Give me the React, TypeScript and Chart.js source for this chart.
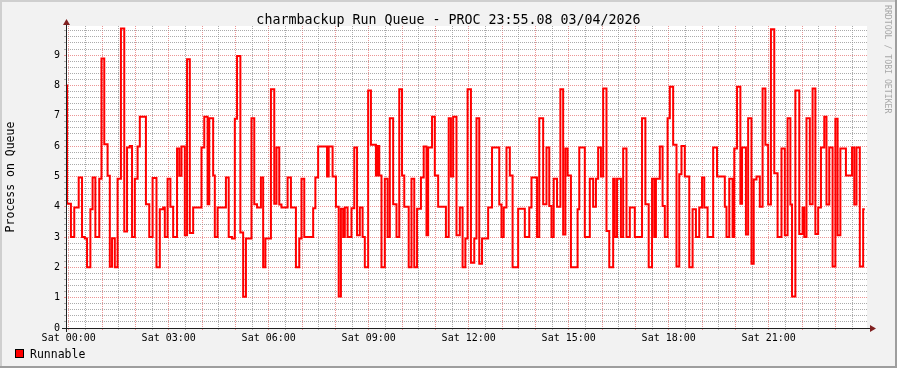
import { useEffect, useRef } from 'react';
import { Chart, registerables } from 'chart.js';

Chart.register(...registerables);

// Time of each step start, minutes after Sat 00:00
const minutes = [
  -5, -3, 4, 10, 18, 24, 29, 33, 39, 43, 48, 55, 59, 64, 70, 74, 78, 83, 88, 94,
  100, 105, 110, 114, 119, 124, 128, 139, 145, 151, 158, 164, 170, 173, 178, 183, 188, 195, 199, 203,
  209, 213, 218, 224, 239, 244, 250, 253, 260, 263, 268, 283, 288, 294, 299, 303, 309, 314, 319, 329,
  334, 339, 346, 350, 354, 364, 370, 374, 379, 383, 394, 400, 409, 415, 419, 424, 440, 444, 449, 465,
  468, 475, 481, 486, 490, 494, 497, 502, 509, 514, 519, 524, 529, 533, 539, 544, 553, 556, 559, 563,
  569, 574, 578, 584, 590, 595, 600, 604, 612, 617, 622, 627, 634, 639, 644, 647, 654, 659, 665, 679,
  684, 688, 692, 698, 704, 709, 714, 718, 724, 730, 734, 739, 744, 755, 762, 775, 779, 783, 788, 794,
  799, 809, 821, 829, 833, 843, 847, 854, 860, 865, 869, 873, 879, 885, 890, 894, 898, 904, 916, 919,
  929, 938, 944, 949, 953, 958, 962, 968, 973, 980, 983, 987, 994, 998, 1004, 1010, 1019, 1032, 1038, 1044,
  1050, 1054, 1057, 1064, 1069, 1073, 1078, 1082, 1088, 1094, 1099, 1103, 1109, 1117, 1123, 1129, 1135, 1140, 1144, 1150,
  1160, 1167, 1181, 1184, 1189, 1195, 1198, 1203, 1209, 1212, 1219, 1223, 1229, 1233, 1238, 1244, 1249, 1254, 1259, 1264,
  1270, 1276, 1283, 1289, 1294, 1299, 1302, 1308, 1315, 1321, 1324, 1328, 1334, 1339, 1344, 1349, 1354, 1360, 1364, 1369,
  1375, 1380, 1384, 1389, 1399, 1410, 1414, 1418, 1424, 1430, 1433,
];

// Runnable processes on queue
const runnable = [
  8.0, 4.1, 3.0, 3.97, 4.96, 3.0, 2.95, 2.0, 3.92, 4.96, 3.0, 4.92, 8.89, 6.06, 5.02, 2.02, 2.96, 2.0, 4.92, 9.88,
  3.18, 5.95, 6.0, 3.0, 4.92, 5.99, 6.97, 4.08, 3.0, 4.95, 2.0, 3.92, 3.97, 3.0, 4.92, 4.0, 3.0, 5.92, 5.02, 5.99,
  3.06, 8.86, 3.13, 3.97, 5.95, 6.97, 4.08, 6.92, 5.03, 3.0, 3.97, 4.96, 3.0, 2.95, 6.9, 8.97, 3.15, 1.03, 2.95, 6.92,
  4.08, 3.97, 4.96, 2.0, 2.95, 7.87, 4.1, 5.95, 4.07, 3.97, 4.96, 3.97, 2.0, 2.95, 4.92, 3.0, 3.95, 4.96, 5.99, 5.0,
  5.99, 5.0, 4.0, 1.04, 3.93, 3.0, 3.97, 3.0, 3.95, 5.95, 3.06, 3.97, 3.0, 2.0, 7.83, 6.04, 5.03, 6.0, 5.03, 2.0,
  4.92, 3.0, 6.92, 4.08, 3.0, 7.87, 5.03, 4.0, 2.0, 4.92, 2.0, 3.93, 4.96, 5.99, 3.06, 5.95, 6.97, 5.03, 4.0, 3.0,
  6.92, 5.0, 6.97, 3.06, 3.97, 2.0, 2.95, 7.87, 2.15, 2.95, 6.92, 2.12, 2.95, 3.97, 5.95, 4.07, 3.0, 3.97, 5.95, 5.03,
  2.0, 3.93, 3.0, 3.97, 4.96, 3.0, 6.92, 4.08, 5.95, 4.02, 3.0, 4.92, 4.0, 7.87, 3.08, 5.92, 5.03, 2.0, 3.92, 5.95,
  3.0, 4.92, 4.0, 4.92, 5.95, 5.0, 7.9, 3.2, 2.0, 4.92, 3.0, 4.92, 3.0, 5.92, 3.0, 3.97, 3.0, 6.92, 4.08, 2.0,
  4.92, 3.0, 4.92, 5.99, 4.02, 3.0, 6.92, 7.96, 6.04, 2.03, 5.07, 6.0, 5.0, 2.0, 3.92, 3.0, 3.97, 4.96, 3.97, 3.0,
  5.95, 5.0, 4.0, 3.0, 4.92, 3.0, 5.92, 7.96, 4.1, 5.95, 3.08, 6.92, 2.12, 4.9, 5.0, 4.0, 7.9, 6.04, 4.07, 9.85,
  5.1, 3.0, 5.92, 3.06, 6.92, 4.07, 1.04, 7.83, 3.1, 3.97, 3.0, 6.92, 4.08, 7.9, 3.1, 3.97, 5.95, 6.97, 4.07, 5.95,
  2.03, 6.9, 3.06, 5.92, 5.03, 5.95, 4.07, 5.95, 2.03, 3.92, 3.92,
];

const xTickMinutes = [0, 180, 360, 540, 720, 900, 1080, 1260];
const xTickLabels = ['Sat 00:00', 'Sat 03:00', 'Sat 06:00', 'Sat 09:00', 'Sat 12:00', 'Sat 15:00', 'Sat 18:00', 'Sat 21:00'];
const yTickValues = [0, 1, 2, 3, 4, 5, 6, 7, 8, 9];
const yTickLabels = ['0', '1', '2', '3', '4', '5', '6', '7', '8', '9'];

const titleText = 'charmbackup Run Queue - PROC 23:55.08 03/04/2026';
const yTitle = 'Process on Queue';
const legendLabel = 'Runnable';
const watermark = 'RRDTOOL / TOBI OETIKER';

const MONO = '"DejaVu Sans Mono", monospace';
const GRID = 'rgba(143,143,143,0.75)';
const MGRID = 'rgba(222,79,79,0.6)';

const isInt = (v: number) => Math.abs(v - Math.round(v)) < 1e-6;

const deco = {
  id: 'deco',
  beforeDraw(chart: any) {
    const { ctx, chartArea: a, width, height } = chart;
    ctx.save();
    ctx.fillStyle = '#F2F2F2';
    ctx.fillRect(0, 0, width, height);
    ctx.fillStyle = '#CFCFCF';
    ctx.fillRect(0, 0, width, 2);
    ctx.fillRect(0, 0, 2, height);
    ctx.fillStyle = '#9E9E9E';
    ctx.fillRect(0, height - 2, width, 2);
    ctx.fillRect(width - 2, 0, 2, height);
    ctx.fillStyle = '#FFFFFF';
    ctx.fillRect(a.left, a.top, a.right - a.left, a.bottom - a.top);
    ctx.restore();
  },
  afterDraw(chart: any) {
    const { ctx, chartArea: a, width } = chart;
    ctx.save();
    // axes
    ctx.strokeStyle = '#1F1F1F';
    ctx.lineWidth = 1;
    ctx.beginPath();
    ctx.moveTo(a.left - 4, a.bottom + 0.5);
    ctx.lineTo(a.right + 4, a.bottom + 0.5);
    ctx.stroke();
    ctx.beginPath();
    ctx.moveTo(a.left + 0.5, a.bottom + 4);
    ctx.lineTo(a.left + 0.5, a.top - 3);
    ctx.stroke();
    // arrows
    ctx.fillStyle = '#802020';
    ctx.beginPath();
    ctx.moveTo(a.right + 3, a.bottom + 0.5 - 3.5);
    ctx.lineTo(a.right + 9, a.bottom + 0.5);
    ctx.lineTo(a.right + 3, a.bottom + 0.5 + 3.5);
    ctx.closePath();
    ctx.fill();
    ctx.beginPath();
    ctx.moveTo(a.left + 0.5 - 3.5, a.top - 1);
    ctx.lineTo(a.left + 0.5, a.top - 7);
    ctx.lineTo(a.left + 0.5 + 3.5, a.top - 1);
    ctx.closePath();
    ctx.fill();

    // title
    ctx.fillStyle = '#000';
    ctx.font = `13.3px ${MONO}`;
    ctx.textAlign = 'center';
    ctx.textBaseline = 'alphabetic';
    ctx.fillText(titleText, width / 2, 24);

    // y-axis title
    ctx.save();
    ctx.font = `11.5px ${MONO}`;
    ctx.translate(11, (a.top + a.bottom) / 2);
    ctx.rotate(-Math.PI / 2);
    ctx.textAlign = 'center';
    ctx.textBaseline = 'middle';
    ctx.fillText(yTitle, 0, 0);
    ctx.restore();

    // legend
    ctx.fillStyle = '#FF0000';
    ctx.fillRect(15, 349, 9, 9);
    ctx.strokeStyle = '#000';
    ctx.lineWidth = 1;
    ctx.strokeRect(15.5, 349.5, 8, 8);
    ctx.fillStyle = '#000';
    ctx.font = `11.5px ${MONO}`;
    ctx.textAlign = 'left';
    ctx.textBaseline = 'alphabetic';
    ctx.fillText(legendLabel, 30, 358);

    // watermark
    ctx.save();
    ctx.fillStyle = '#A8A8A8';
    ctx.font = `8.2px ${MONO}`;
    ctx.translate(887, 5);
    ctx.rotate(Math.PI / 2);
    ctx.textAlign = 'left';
    ctx.textBaseline = 'middle';
    ctx.fillText(watermark, 0, 0);
    ctx.restore();

    ctx.restore();
  },
};

export default function App() {
  const ref = useRef<HTMLCanvasElement>(null);

  useEffect(() => {
    document.body.style.margin = '0';
    const points = minutes.map((m, i) => ({ x: m, y: runnable[i] }));
    const chart = new Chart(ref.current as HTMLCanvasElement, {
      type: 'line',
      data: {
        datasets: [
          {
            label: legendLabel,
            data: points,
            borderColor: '#FF0000',
            backgroundColor: '#FF0000',
            borderWidth: 2,
            stepped: 'before',
            pointRadius: 0,
            fill: false,
            tension: 0,
            borderJoinStyle: 'miter',
            borderCapStyle: 'butt',
          } as any,
        ],
      },
      options: {
        animation: false,
        responsive: false,
        maintainAspectRatio: false,
        devicePixelRatio: 1,
        events: [],
        layout: { padding: { left: 0, top: 26, right: 30, bottom: 0 } },
        plugins: {
          legend: { display: false },
          tooltip: { enabled: false },
          title: { display: false },
        },
        scales: {
          x: {
            type: 'linear',
            position: 'bottom',
            min: -4.87,
            max: -4.87 + 801 * 1.8,
            afterFit: (s: any) => {
              s.height = 40;
            },
            grid: {
              color: (c: any) => (c.tick && c.tick.value % 60 === 0 ? MGRID : GRID),
              tickColor: (c: any) => (c.tick && c.tick.value % 60 === 0 ? MGRID : GRID),
              lineWidth: 1,
              tickLength: 2,
              drawTicks: true,
            },
            border: { display: false, dash: [1, 1] },
            ticks: {
              stepSize: 30,
              autoSkip: false,
              includeBounds: false,
              maxRotation: 0,
              minRotation: 0,
              padding: 2,
              color: '#000',
              font: { family: MONO, size: 10 },
              callback: (v: any) => {
                const i = xTickMinutes.indexOf(Math.round(Number(v)));
                return i >= 0 ? xTickLabels[i] : '';
              },
            },
          } as any,
          y: {
            type: 'linear',
            position: 'left',
            min: 0,
            max: 9.96,
            afterFit: (s: any) => {
              s.width = 66;
            },
            grid: {
              color: (c: any) => (c.tick && isInt(c.tick.value) ? MGRID : GRID),
              tickColor: (c: any) => (c.tick && isInt(c.tick.value) ? MGRID : GRID),
              lineWidth: 1,
              tickLength: 2,
              drawTicks: true,
            },
            border: { display: false, dash: [1, 1] },
            ticks: {
              stepSize: 0.2,
              autoSkip: false,
              includeBounds: false,
              padding: 4,
              color: '#000',
              font: { family: MONO, size: 10 },
              callback: (v: any) => {
                const n = Number(v);
                if (!isInt(n)) return '';
                const i = yTickValues.indexOf(Math.round(n));
                return i >= 0 ? yTickLabels[i] : '';
              },
            },
          } as any,
        },
      },
      plugins: [deco as any],
    });
    return () => chart.destroy();
  }, []);

  return (
    <div style={{ position: 'absolute', left: 0, top: 0, width: 897, height: 368 }}>
      <canvas ref={ref} width={897} height={368} style={{ display: 'block', width: 897, height: 368 }} />
    </div>
  );
}
